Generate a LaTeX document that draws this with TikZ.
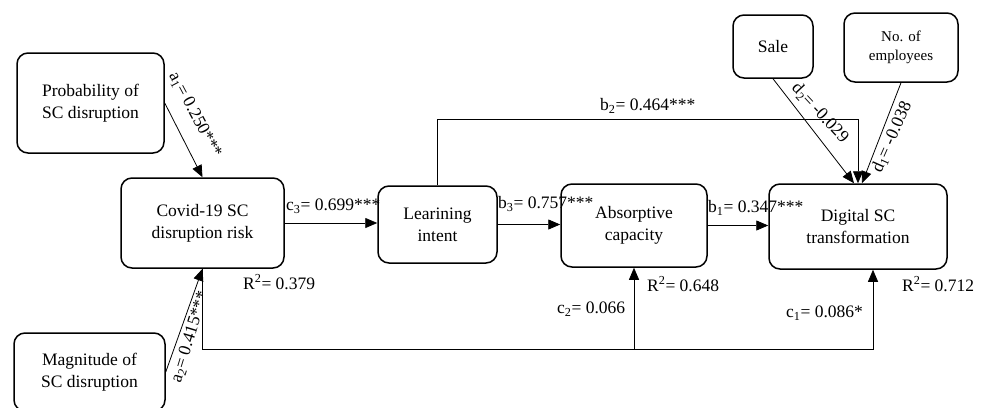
\documentclass[tikz,border=0pt]{standalone}
\usepackage{fontspec}
\setmainfont{Liberation Serif}
\usetikzlibrary{arrows.meta,calc}
\begin{document}
\begin{tikzpicture}[x=1pt,y=-1pt,
  box/.style={draw, line width=1.5pt, rounded corners=11pt, align=center, inner sep=0pt,
    font=\fontsize{17.5}{22}\selectfont},
  conn/.style={line width=0.8pt},
  arr/.style={conn, -{Triangle[length=12pt,width=10pt]}},
  lbl/.style={inner sep=0pt, font=\fontsize{17.5}{21}\selectfont}]
\useasboundingbox (0,0) rectangle (985,407);
% boxes
\node[box, minimum width=147pt, minimum height=100pt] (prob) at (90.5,103) {Probability of\\SC disruption};
\node[box, minimum width=163pt, minimum height=90pt] (covid) at (202.5,223) {Covid-19 SC\\disruption risk};
\node[box, minimum width=151pt, minimum height=78pt] (mag) at (89.5,372) {Magnitude of\\SC disruption};
\node[box, minimum width=119pt, minimum height=77pt] (learn) at (437.5,224.5) {Learining\\intent};
\node[box, minimum width=146pt, minimum height=83pt] (absorb) at (634,225.5) {Absorptive\\capacity};
\node[box, minimum width=178pt, minimum height=85pt] (digital) at (858,226.5) {Digital SC\\transformation};
\node[box, minimum width=80pt, minimum height=63pt] (sale) at (773,46.5) {Sale};
\node[box, minimum width=114pt, minimum height=69pt, font=\fontsize{15}{19}\selectfont] (emp) at (901,47.5) {No. of\\employees};
% coordinates
\coordinate (bot) at ($(covid.south)+(0,81)$);
\coordinate (c1end) at ($(digital.south)+(15,0)$);
\coordinate (dl) at ($(digital.north)+(-4,0)$);
\coordinate (dr) at ($(digital.north)+(4,0)$);
% connectors
\draw[arr] (prob.east) -- (covid.north);
\draw[arr] (mag.east) -- (covid.south);
\draw[arr] (covid.east) -- (covid.east -| learn.west);
\draw[arr] (learn.east) -- (learn.east -| absorb.west);
\draw[arr] (absorb.east) -- (absorb.east -| digital.west);
\draw[arr] (learn.north) -- ++(0,-66) -| (digital.north);
\draw[arr] (sale.south) -- (dl);
\draw[arr] (emp.south) -- (dr);
\draw[arr] (covid.south) -- (bot) -| (c1end);
\draw[arr] (bot -| absorb.south) -- (absorb.south);
% labels
\node[lbl, rotate=-62] (la1) at (195,115) {a\textsubscript{1}= 0.250***};
\node[lbl, rotate=73] (la2) at (190,337) {a\textsubscript{2}= 0.415***};
\node[lbl, anchor=west] (lc3) at (286,206) {c\textsubscript{3}= 0.699***};
\node[lbl, anchor=west] (lb3) at (498,204) {b\textsubscript{3}= 0.757***};
\node[lbl, anchor=west] (lb1) at (708,208) {b\textsubscript{1}= 0.347***};
\node[lbl, anchor=west] (lb2) at (600,106) {b\textsubscript{2}= 0.464***};
\node[lbl, rotate=-47] (ld2) at (820,113) {d\textsubscript{2}= -0.029};
\node[lbl, rotate=66] (ld1) at (892,137) {d\textsubscript{1}= -0.038};
\node[lbl, anchor=west] (r1) at (243,282) {R\textsuperscript{2}= 0.379};
\node[lbl, anchor=west] (r2) at (647,284) {R\textsuperscript{2}= 0.648};
\node[lbl, anchor=west] (r3) at (902,284) {R\textsuperscript{2}= 0.712};
\node[lbl, anchor=west] (lc2) at (557,309) {c\textsubscript{2}= 0.066};
\node[lbl, anchor=west] (lc1) at (786,313) {c\textsubscript{1}= 0.086*};
\end{tikzpicture}
\end{document}
